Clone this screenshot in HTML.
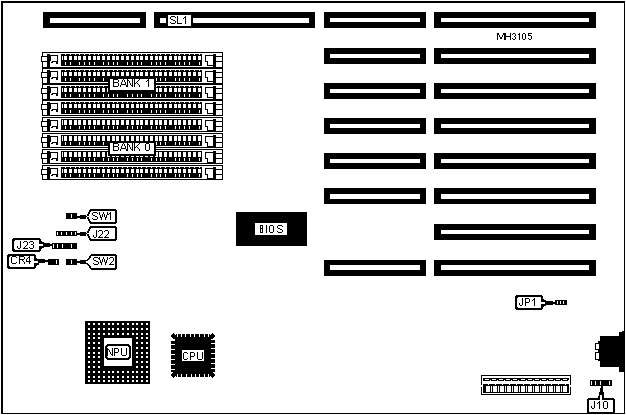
<!DOCTYPE html>
<html><head><meta charset="utf-8"><style>
html,body{margin:0;padding:0;background:#fff;width:626px;height:415px;overflow:hidden}
svg{display:block}
text{font-family:"Liberation Sans",sans-serif;fill:#000}
</style></head><body>
<svg width="626" height="415" viewBox="0 0 626 415" shape-rendering="crispEdges"><rect width="626" height="415" fill="#fff"/><path fill="#000" d="M1 1h624v2h-624zM1 1h2v413h-2zM624 1h1v413h-1zM1 413h624v1h-624zM43 12h103v16h-103z"/><path fill="#fff" d="M50 18h90v5h-90z"/><path fill="#000" d="M154 12h161v16h-161z"/><path fill="#fff" d="M160 18h6v5h-6zM193 18h116v5h-116zM168 15h23v11h-23z"/><path fill="#000" d="M171 16h1v1h-1zM172 16h1v1h-1zM173 16h1v1h-1zM174 16h1v1h-1zM170 17h1v1h-1zM175 17h1v1h-1zM170 18h1v1h-1zM171 19h1v1h-1zM172 19h1v1h-1zM173 20h1v1h-1zM174 20h1v1h-1zM175 21h1v1h-1zM170 22h1v1h-1zM175 22h1v1h-1zM171 23h1v1h-1zM172 23h1v1h-1zM173 23h1v1h-1zM174 23h1v1h-1zM177 16h1v1h-1zM177 17h1v1h-1zM177 18h1v1h-1zM177 19h1v1h-1zM177 20h1v1h-1zM177 21h1v1h-1zM177 22h1v1h-1zM177 23h1v1h-1zM178 23h1v1h-1zM179 23h1v1h-1zM180 23h1v1h-1zM181 23h1v1h-1zM185 16h1v1h-1zM184 17h1v1h-1zM185 17h1v1h-1zM183 18h1v1h-1zM185 18h1v1h-1zM185 19h1v1h-1zM185 20h1v1h-1zM185 21h1v1h-1zM185 22h1v1h-1zM185 23h1v1h-1zM324 12h102v16h-102z"/><path fill="#fff" d="M330 18h90v4h-90z"/><path fill="#000" d="M324 48h102v16h-102z"/><path fill="#fff" d="M330 54h90v4h-90z"/><path fill="#000" d="M324 83h102v16h-102z"/><path fill="#fff" d="M330 89h90v4h-90z"/><path fill="#000" d="M324 118h102v16h-102z"/><path fill="#fff" d="M330 124h90v4h-90z"/><path fill="#000" d="M324 153h102v16h-102z"/><path fill="#fff" d="M330 159h90v4h-90z"/><path fill="#000" d="M324 188h102v16h-102z"/><path fill="#fff" d="M330 194h90v5h-90z"/><path fill="#000" d="M324 260h102v16h-102z"/><path fill="#fff" d="M330 265h90v5h-90z"/><path fill="#000" d="M434 12h162v16h-162z"/><path fill="#fff" d="M441 18h148v4h-148z"/><path fill="#000" d="M434 48h162v16h-162z"/><path fill="#fff" d="M441 54h148v4h-148z"/><path fill="#000" d="M434 83h162v16h-162z"/><path fill="#fff" d="M441 89h148v4h-148z"/><path fill="#000" d="M434 118h162v16h-162z"/><path fill="#fff" d="M441 124h148v4h-148z"/><path fill="#000" d="M434 153h162v16h-162z"/><path fill="#fff" d="M441 159h148v4h-148z"/><path fill="#000" d="M434 188h162v16h-162z"/><path fill="#fff" d="M441 194h148v5h-148z"/><path fill="#000" d="M434 224h162v16h-162z"/><path fill="#fff" d="M441 230h148v4h-148z"/><path fill="#000" d="M434 260h162v16h-162z"/><path fill="#fff" d="M441 265h148v5h-148z"/><path fill="#000" d="M497 33h1v1h-1zM498 33h1v1h-1zM503 33h1v1h-1zM504 33h1v1h-1zM505 33h1v1h-1zM510 33h1v1h-1zM497 34h1v1h-1zM498 34h1v1h-1zM503 34h1v1h-1zM504 34h1v1h-1zM505 34h1v1h-1zM510 34h1v1h-1zM497 35h1v1h-1zM499 35h1v1h-1zM502 35h1v1h-1zM504 35h1v1h-1zM505 35h1v1h-1zM510 35h1v1h-1zM497 36h1v1h-1zM499 36h1v1h-1zM502 36h1v1h-1zM504 36h1v1h-1zM505 36h1v1h-1zM506 36h1v1h-1zM507 36h1v1h-1zM508 36h1v1h-1zM509 36h1v1h-1zM510 36h1v1h-1zM497 37h1v1h-1zM500 37h1v1h-1zM501 37h1v1h-1zM504 37h1v1h-1zM505 37h1v1h-1zM510 37h1v1h-1zM497 38h1v1h-1zM500 38h1v1h-1zM501 38h1v1h-1zM504 38h1v1h-1zM505 38h1v1h-1zM510 38h1v1h-1zM497 39h1v1h-1zM504 39h1v1h-1zM505 39h1v1h-1zM510 39h1v1h-1zM513 33h1v1h-1zM514 33h1v1h-1zM512 34h1v1h-1zM515 34h1v1h-1zM515 35h1v1h-1zM514 36h1v1h-1zM515 37h1v1h-1zM512 38h1v1h-1zM515 38h1v1h-1zM513 39h1v1h-1zM514 39h1v1h-1zM519 33h1v1h-1zM518 34h1v1h-1zM519 34h1v1h-1zM519 35h1v1h-1zM519 36h1v1h-1zM519 37h1v1h-1zM519 38h1v1h-1zM519 39h1v1h-1zM523 33h1v1h-1zM524 33h1v1h-1zM522 34h1v1h-1zM525 34h1v1h-1zM522 35h1v1h-1zM525 35h1v1h-1zM522 36h1v1h-1zM525 36h1v1h-1zM522 37h1v1h-1zM525 37h1v1h-1zM522 38h1v1h-1zM525 38h1v1h-1zM523 39h1v1h-1zM524 39h1v1h-1zM528 33h1v1h-1zM529 33h1v1h-1zM530 33h1v1h-1zM531 33h1v1h-1zM528 34h1v1h-1zM528 35h1v1h-1zM529 35h1v1h-1zM530 35h1v1h-1zM531 36h1v1h-1zM531 37h1v1h-1zM528 38h1v1h-1zM531 38h1v1h-1zM529 39h1v1h-1zM530 39h1v1h-1zM42 52h181v1h-181zM42 67h181v1h-181zM42 52h1v16h-1zM222 52h1v16h-1zM41 56h6v1h-6zM41 61h6v1h-6zM41 56h1v6h-1z"/><path fill="#fff" d="M42 57h5v4h-5z"/><path fill="#000" d="M47 54h3v13h-3zM50 55h8v1h-8zM57 55h1v9h-1zM50 55h1v6h-1zM52 61h6v1h-6zM51 62h2v1h-2zM56 62h2v2h-2zM61 54h141v12h-141z"/><path fill="#fff" d="M64 56h3v4h-3zM65 54h1v1h-1zM65 62h1v3h-1zM69 56h3v4h-3zM70 54h1v1h-1zM70 62h1v3h-1zM74 56h3v4h-3zM75 54h1v1h-1zM78 56h3v4h-3zM79 54h1v1h-1zM79 62h1v3h-1zM83 56h3v4h-3zM84 54h1v1h-1zM84 62h1v3h-1zM88 56h3v4h-3zM89 54h1v1h-1zM89 62h1v3h-1zM93 56h3v4h-3zM94 54h1v1h-1zM94 62h1v3h-1zM97 56h3v4h-3zM98 54h1v1h-1zM102 56h3v4h-3zM103 54h1v1h-1zM103 62h1v3h-1zM107 56h3v4h-3zM108 54h1v1h-1zM108 62h1v3h-1zM112 56h3v4h-3zM113 54h1v1h-1zM113 62h1v3h-1zM116 56h3v4h-3zM117 54h1v1h-1zM117 62h1v3h-1zM121 56h3v4h-3zM122 54h1v1h-1zM126 56h3v4h-3zM127 54h1v1h-1zM127 62h1v3h-1zM131 56h3v4h-3zM132 54h1v1h-1zM132 62h1v3h-1zM136 56h3v4h-3zM137 54h1v1h-1zM137 62h1v3h-1zM140 56h3v4h-3zM141 54h1v1h-1zM141 62h1v3h-1zM145 56h3v4h-3zM146 54h1v1h-1zM150 56h3v4h-3zM151 54h1v1h-1zM151 62h1v3h-1zM155 56h3v4h-3zM156 54h1v1h-1zM156 62h1v3h-1zM159 56h3v4h-3zM160 54h1v1h-1zM160 62h1v3h-1zM164 56h3v4h-3zM165 54h1v1h-1zM165 62h1v3h-1zM169 56h3v4h-3zM170 54h1v1h-1zM174 56h3v4h-3zM175 54h1v1h-1zM175 62h1v3h-1zM178 56h3v4h-3zM179 54h1v1h-1zM179 62h1v3h-1zM183 56h3v4h-3zM184 54h1v1h-1zM184 62h1v3h-1zM188 56h3v4h-3zM189 54h1v1h-1zM189 62h1v3h-1zM193 56h3v4h-3zM194 54h1v1h-1zM198 56h3v4h-3zM199 54h1v1h-1zM199 62h1v3h-1zM62 56h1v4h-1zM200 56h1v4h-1z"/><path fill="#000" d="M205 55h9v1h-9zM205 55h1v7h-1zM205 61h3v1h-3zM207 61h1v5h-1zM207 65h7v1h-7zM213 61h1v5h-1zM213 54h3v13h-3zM216 56h6v1h-6zM216 61h6v1h-6zM42 68h181v1h-181zM42 83h181v1h-181zM42 68h1v16h-1zM222 68h1v16h-1zM41 72h6v1h-6zM41 77h6v1h-6zM41 72h1v6h-1z"/><path fill="#fff" d="M42 73h5v4h-5z"/><path fill="#000" d="M47 70h3v13h-3zM50 71h8v1h-8zM57 71h1v9h-1zM50 71h1v6h-1zM52 77h6v1h-6zM51 78h2v1h-2zM56 78h2v2h-2zM61 70h141v12h-141z"/><path fill="#fff" d="M64 72h3v4h-3zM65 70h1v1h-1zM65 78h1v3h-1zM69 72h3v4h-3zM70 70h1v1h-1zM70 78h1v3h-1zM74 72h3v4h-3zM75 70h1v1h-1zM78 72h3v4h-3zM79 70h1v1h-1zM79 78h1v3h-1zM83 72h3v4h-3zM84 70h1v1h-1zM84 78h1v3h-1zM88 72h3v4h-3zM89 70h1v1h-1zM89 78h1v3h-1zM93 72h3v4h-3zM94 70h1v1h-1zM94 78h1v3h-1zM97 72h3v4h-3zM98 70h1v1h-1zM102 72h3v4h-3zM103 70h1v1h-1zM103 78h1v3h-1zM107 72h3v4h-3zM108 70h1v1h-1zM108 78h1v3h-1zM112 72h3v4h-3zM113 70h1v1h-1zM113 78h1v3h-1zM116 72h3v4h-3zM117 70h1v1h-1zM117 78h1v3h-1zM121 72h3v4h-3zM122 70h1v1h-1zM126 72h3v4h-3zM127 70h1v1h-1zM127 78h1v3h-1zM131 72h3v4h-3zM132 70h1v1h-1zM132 78h1v3h-1zM136 72h3v4h-3zM137 70h1v1h-1zM137 78h1v3h-1zM140 72h3v4h-3zM141 70h1v1h-1zM141 78h1v3h-1zM145 72h3v4h-3zM146 70h1v1h-1zM150 72h3v4h-3zM151 70h1v1h-1zM151 78h1v3h-1zM155 72h3v4h-3zM156 70h1v1h-1zM156 78h1v3h-1zM159 72h3v4h-3zM160 70h1v1h-1zM160 78h1v3h-1zM164 72h3v4h-3zM165 70h1v1h-1zM165 78h1v3h-1zM169 72h3v4h-3zM170 70h1v1h-1zM174 72h3v4h-3zM175 70h1v1h-1zM175 78h1v3h-1zM178 72h3v4h-3zM179 70h1v1h-1zM179 78h1v3h-1zM183 72h3v4h-3zM184 70h1v1h-1zM184 78h1v3h-1zM188 72h3v4h-3zM189 70h1v1h-1zM189 78h1v3h-1zM193 72h3v4h-3zM194 70h1v1h-1zM198 72h3v4h-3zM199 70h1v1h-1zM199 78h1v3h-1zM62 72h1v4h-1zM200 72h1v4h-1z"/><path fill="#000" d="M205 71h9v1h-9zM205 71h1v7h-1zM205 77h3v1h-3zM207 77h1v5h-1zM207 81h7v1h-7zM213 77h1v5h-1zM213 70h3v13h-3zM216 72h6v1h-6zM216 77h6v1h-6zM42 84h181v1h-181zM42 99h181v1h-181zM42 84h1v16h-1zM222 84h1v16h-1zM41 88h6v1h-6zM41 93h6v1h-6zM41 88h1v6h-1z"/><path fill="#fff" d="M42 89h5v4h-5z"/><path fill="#000" d="M47 86h3v13h-3zM50 87h8v1h-8zM57 87h1v9h-1zM50 87h1v6h-1zM52 93h6v1h-6zM51 94h2v1h-2zM56 94h2v2h-2zM61 86h141v12h-141z"/><path fill="#fff" d="M64 88h3v4h-3zM65 86h1v1h-1zM65 94h1v3h-1zM69 88h3v4h-3zM70 86h1v1h-1zM70 94h1v3h-1zM74 88h3v4h-3zM75 86h1v1h-1zM78 88h3v4h-3zM79 86h1v1h-1zM79 94h1v3h-1zM83 88h3v4h-3zM84 86h1v1h-1zM84 94h1v3h-1zM88 88h3v4h-3zM89 86h1v1h-1zM89 94h1v3h-1zM93 88h3v4h-3zM94 86h1v1h-1zM94 94h1v3h-1zM97 88h3v4h-3zM98 86h1v1h-1zM102 88h3v4h-3zM103 86h1v1h-1zM103 94h1v3h-1zM107 88h3v4h-3zM108 86h1v1h-1zM108 94h1v3h-1zM112 88h3v4h-3zM113 86h1v1h-1zM113 94h1v3h-1zM116 88h3v4h-3zM117 86h1v1h-1zM117 94h1v3h-1zM121 88h3v4h-3zM122 86h1v1h-1zM126 88h3v4h-3zM127 86h1v1h-1zM127 94h1v3h-1zM131 88h3v4h-3zM132 86h1v1h-1zM132 94h1v3h-1zM136 88h3v4h-3zM137 86h1v1h-1zM137 94h1v3h-1zM140 88h3v4h-3zM141 86h1v1h-1zM141 94h1v3h-1zM145 88h3v4h-3zM146 86h1v1h-1zM150 88h3v4h-3zM151 86h1v1h-1zM151 94h1v3h-1zM155 88h3v4h-3zM156 86h1v1h-1zM156 94h1v3h-1zM159 88h3v4h-3zM160 86h1v1h-1zM160 94h1v3h-1zM164 88h3v4h-3zM165 86h1v1h-1zM165 94h1v3h-1zM169 88h3v4h-3zM170 86h1v1h-1zM174 88h3v4h-3zM175 86h1v1h-1zM175 94h1v3h-1zM178 88h3v4h-3zM179 86h1v1h-1zM179 94h1v3h-1zM183 88h3v4h-3zM184 86h1v1h-1zM184 94h1v3h-1zM188 88h3v4h-3zM189 86h1v1h-1zM189 94h1v3h-1zM193 88h3v4h-3zM194 86h1v1h-1zM198 88h3v4h-3zM199 86h1v1h-1zM199 94h1v3h-1zM62 88h1v4h-1zM200 88h1v4h-1z"/><path fill="#000" d="M205 87h9v1h-9zM205 87h1v7h-1zM205 93h3v1h-3zM207 93h1v5h-1zM207 97h7v1h-7zM213 93h1v5h-1zM213 86h3v13h-3zM216 88h6v1h-6zM216 93h6v1h-6zM42 100h181v1h-181zM42 115h181v1h-181zM42 100h1v16h-1zM222 100h1v16h-1zM41 104h6v1h-6zM41 109h6v1h-6zM41 104h1v6h-1z"/><path fill="#fff" d="M42 105h5v4h-5z"/><path fill="#000" d="M47 102h3v13h-3zM50 103h8v1h-8zM57 103h1v9h-1zM50 103h1v6h-1zM52 109h6v1h-6zM51 110h2v1h-2zM56 110h2v2h-2zM61 102h141v12h-141z"/><path fill="#fff" d="M64 104h3v4h-3zM65 102h1v1h-1zM65 110h1v3h-1zM69 104h3v4h-3zM70 102h1v1h-1zM70 110h1v3h-1zM74 104h3v4h-3zM75 102h1v1h-1zM78 104h3v4h-3zM79 102h1v1h-1zM79 110h1v3h-1zM83 104h3v4h-3zM84 102h1v1h-1zM84 110h1v3h-1zM88 104h3v4h-3zM89 102h1v1h-1zM89 110h1v3h-1zM93 104h3v4h-3zM94 102h1v1h-1zM94 110h1v3h-1zM97 104h3v4h-3zM98 102h1v1h-1zM102 104h3v4h-3zM103 102h1v1h-1zM103 110h1v3h-1zM107 104h3v4h-3zM108 102h1v1h-1zM108 110h1v3h-1zM112 104h3v4h-3zM113 102h1v1h-1zM113 110h1v3h-1zM116 104h3v4h-3zM117 102h1v1h-1zM117 110h1v3h-1zM121 104h3v4h-3zM122 102h1v1h-1zM126 104h3v4h-3zM127 102h1v1h-1zM127 110h1v3h-1zM131 104h3v4h-3zM132 102h1v1h-1zM132 110h1v3h-1zM136 104h3v4h-3zM137 102h1v1h-1zM137 110h1v3h-1zM140 104h3v4h-3zM141 102h1v1h-1zM141 110h1v3h-1zM145 104h3v4h-3zM146 102h1v1h-1zM150 104h3v4h-3zM151 102h1v1h-1zM151 110h1v3h-1zM155 104h3v4h-3zM156 102h1v1h-1zM156 110h1v3h-1zM159 104h3v4h-3zM160 102h1v1h-1zM160 110h1v3h-1zM164 104h3v4h-3zM165 102h1v1h-1zM165 110h1v3h-1zM169 104h3v4h-3zM170 102h1v1h-1zM174 104h3v4h-3zM175 102h1v1h-1zM175 110h1v3h-1zM178 104h3v4h-3zM179 102h1v1h-1zM179 110h1v3h-1zM183 104h3v4h-3zM184 102h1v1h-1zM184 110h1v3h-1zM188 104h3v4h-3zM189 102h1v1h-1zM189 110h1v3h-1zM193 104h3v4h-3zM194 102h1v1h-1zM198 104h3v4h-3zM199 102h1v1h-1zM199 110h1v3h-1zM62 104h1v4h-1zM200 104h1v4h-1z"/><path fill="#000" d="M205 103h9v1h-9zM205 103h1v7h-1zM205 109h3v1h-3zM207 109h1v5h-1zM207 113h7v1h-7zM213 109h1v5h-1zM213 102h3v13h-3zM216 104h6v1h-6zM216 109h6v1h-6zM42 117h181v1h-181zM42 131h181v1h-181zM42 117h1v15h-1zM222 117h1v15h-1zM41 121h6v1h-6zM41 126h6v1h-6zM41 121h1v6h-1z"/><path fill="#fff" d="M42 122h5v4h-5z"/><path fill="#000" d="M47 119h3v12h-3zM50 120h8v1h-8zM57 120h1v9h-1zM50 120h1v6h-1zM52 126h6v1h-6zM51 127h2v1h-2zM56 127h2v2h-2zM61 119h141v11h-141z"/><path fill="#fff" d="M64 120h3v5h-3zM65 126h1v3h-1zM69 120h3v5h-3zM70 126h1v3h-1zM74 120h3v5h-3zM78 120h3v5h-3zM79 126h1v3h-1zM83 120h3v5h-3zM84 126h1v3h-1zM88 120h3v5h-3zM89 126h1v3h-1zM93 120h3v5h-3zM94 126h1v3h-1zM97 120h3v5h-3zM102 120h3v5h-3zM103 126h1v3h-1zM107 120h3v5h-3zM108 126h1v3h-1zM112 120h3v5h-3zM113 126h1v3h-1zM116 120h3v5h-3zM117 126h1v3h-1zM121 120h3v5h-3zM126 120h3v5h-3zM127 126h1v3h-1zM131 120h3v5h-3zM132 126h1v3h-1zM136 120h3v5h-3zM137 126h1v3h-1zM140 120h3v5h-3zM141 126h1v3h-1zM145 120h3v5h-3zM150 120h3v5h-3zM151 126h1v3h-1zM155 120h3v5h-3zM156 126h1v3h-1zM159 120h3v5h-3zM160 126h1v3h-1zM164 120h3v5h-3zM165 126h1v3h-1zM169 120h3v5h-3zM174 120h3v5h-3zM175 126h1v3h-1zM178 120h3v5h-3zM179 126h1v3h-1zM183 120h3v5h-3zM184 126h1v3h-1zM188 120h3v5h-3zM189 126h1v3h-1zM193 120h3v5h-3zM198 120h3v5h-3zM199 126h1v3h-1zM62 120h1v5h-1zM200 120h1v5h-1z"/><path fill="#000" d="M205 120h9v1h-9zM205 120h1v7h-1zM205 126h3v1h-3zM207 126h1v5h-1zM207 130h7v1h-7zM213 126h1v5h-1zM213 119h3v13h-3zM216 121h6v1h-6zM216 126h6v1h-6zM42 133h181v1h-181zM42 147h181v1h-181zM42 133h1v15h-1zM222 133h1v15h-1zM41 137h6v1h-6zM41 142h6v1h-6zM41 137h1v6h-1z"/><path fill="#fff" d="M42 138h5v4h-5z"/><path fill="#000" d="M47 135h3v12h-3zM50 136h8v1h-8zM57 136h1v9h-1zM50 136h1v6h-1zM52 142h6v1h-6zM51 143h2v1h-2zM56 143h2v2h-2zM61 135h141v11h-141z"/><path fill="#fff" d="M64 136h3v5h-3zM65 142h1v3h-1zM69 136h3v5h-3zM70 142h1v3h-1zM74 136h3v5h-3zM78 136h3v5h-3zM79 142h1v3h-1zM83 136h3v5h-3zM84 142h1v3h-1zM88 136h3v5h-3zM89 142h1v3h-1zM93 136h3v5h-3zM94 142h1v3h-1zM97 136h3v5h-3zM102 136h3v5h-3zM103 142h1v3h-1zM107 136h3v5h-3zM108 142h1v3h-1zM112 136h3v5h-3zM113 142h1v3h-1zM116 136h3v5h-3zM117 142h1v3h-1zM121 136h3v5h-3zM126 136h3v5h-3zM127 142h1v3h-1zM131 136h3v5h-3zM132 142h1v3h-1zM136 136h3v5h-3zM137 142h1v3h-1zM140 136h3v5h-3zM141 142h1v3h-1zM145 136h3v5h-3zM150 136h3v5h-3zM151 142h1v3h-1zM155 136h3v5h-3zM156 142h1v3h-1zM159 136h3v5h-3zM160 142h1v3h-1zM164 136h3v5h-3zM165 142h1v3h-1zM169 136h3v5h-3zM174 136h3v5h-3zM175 142h1v3h-1zM178 136h3v5h-3zM179 142h1v3h-1zM183 136h3v5h-3zM184 142h1v3h-1zM188 136h3v5h-3zM189 142h1v3h-1zM193 136h3v5h-3zM198 136h3v5h-3zM199 142h1v3h-1zM62 136h1v5h-1zM200 136h1v5h-1z"/><path fill="#000" d="M205 136h9v1h-9zM205 136h1v7h-1zM205 142h3v1h-3zM207 142h1v5h-1zM207 146h7v1h-7zM213 142h1v5h-1zM213 135h3v13h-3zM216 137h6v1h-6zM216 142h6v1h-6zM42 149h181v1h-181zM42 163h181v1h-181zM42 149h1v15h-1zM222 149h1v15h-1zM41 153h6v1h-6zM41 158h6v1h-6zM41 153h1v6h-1z"/><path fill="#fff" d="M42 154h5v4h-5z"/><path fill="#000" d="M47 151h3v12h-3zM50 152h8v1h-8zM57 152h1v9h-1zM50 152h1v6h-1zM52 158h6v1h-6zM51 159h2v1h-2zM56 159h2v2h-2zM61 151h141v11h-141z"/><path fill="#fff" d="M64 152h3v5h-3zM65 158h1v3h-1zM69 152h3v5h-3zM70 158h1v3h-1zM74 152h3v5h-3zM78 152h3v5h-3zM79 158h1v3h-1zM83 152h3v5h-3zM84 158h1v3h-1zM88 152h3v5h-3zM89 158h1v3h-1zM93 152h3v5h-3zM94 158h1v3h-1zM97 152h3v5h-3zM102 152h3v5h-3zM103 158h1v3h-1zM107 152h3v5h-3zM108 158h1v3h-1zM112 152h3v5h-3zM113 158h1v3h-1zM116 152h3v5h-3zM117 158h1v3h-1zM121 152h3v5h-3zM126 152h3v5h-3zM127 158h1v3h-1zM131 152h3v5h-3zM132 158h1v3h-1zM136 152h3v5h-3zM137 158h1v3h-1zM140 152h3v5h-3zM141 158h1v3h-1zM145 152h3v5h-3zM150 152h3v5h-3zM151 158h1v3h-1zM155 152h3v5h-3zM156 158h1v3h-1zM159 152h3v5h-3zM160 158h1v3h-1zM164 152h3v5h-3zM165 158h1v3h-1zM169 152h3v5h-3zM174 152h3v5h-3zM175 158h1v3h-1zM178 152h3v5h-3zM179 158h1v3h-1zM183 152h3v5h-3zM184 158h1v3h-1zM188 152h3v5h-3zM189 158h1v3h-1zM193 152h3v5h-3zM198 152h3v5h-3zM199 158h1v3h-1zM62 152h1v5h-1zM200 152h1v5h-1z"/><path fill="#000" d="M205 152h9v1h-9zM205 152h1v7h-1zM205 158h3v1h-3zM207 158h1v5h-1zM207 162h7v1h-7zM213 158h1v5h-1zM213 151h3v13h-3zM216 153h6v1h-6zM216 158h6v1h-6zM42 165h181v1h-181zM42 179h181v1h-181zM42 165h1v15h-1zM222 165h1v15h-1zM41 169h6v1h-6zM41 174h6v1h-6zM41 169h1v6h-1z"/><path fill="#fff" d="M42 170h5v4h-5z"/><path fill="#000" d="M47 167h3v12h-3zM50 168h8v1h-8zM57 168h1v9h-1zM50 168h1v6h-1zM52 174h6v1h-6zM51 175h2v1h-2zM56 175h2v2h-2zM61 167h141v11h-141z"/><path fill="#fff" d="M64 169h3v4h-3zM65 167h1v1h-1zM65 174h1v3h-1zM69 169h3v4h-3zM70 167h1v1h-1zM70 174h1v3h-1zM74 169h3v4h-3zM75 167h1v1h-1zM78 169h3v4h-3zM79 167h1v1h-1zM79 174h1v3h-1zM83 169h3v4h-3zM84 167h1v1h-1zM84 174h1v3h-1zM88 169h3v4h-3zM89 167h1v1h-1zM89 174h1v3h-1zM93 169h3v4h-3zM94 167h1v1h-1zM94 174h1v3h-1zM97 169h3v4h-3zM98 167h1v1h-1zM102 169h3v4h-3zM103 167h1v1h-1zM103 174h1v3h-1zM107 169h3v4h-3zM108 167h1v1h-1zM108 174h1v3h-1zM112 169h3v4h-3zM113 167h1v1h-1zM113 174h1v3h-1zM116 169h3v4h-3zM117 167h1v1h-1zM117 174h1v3h-1zM121 169h3v4h-3zM122 167h1v1h-1zM126 169h3v4h-3zM127 167h1v1h-1zM127 174h1v3h-1zM131 169h3v4h-3zM132 167h1v1h-1zM132 174h1v3h-1zM136 169h3v4h-3zM137 167h1v1h-1zM137 174h1v3h-1zM140 169h3v4h-3zM141 167h1v1h-1zM141 174h1v3h-1zM145 169h3v4h-3zM146 167h1v1h-1zM150 169h3v4h-3zM151 167h1v1h-1zM151 174h1v3h-1zM155 169h3v4h-3zM156 167h1v1h-1zM156 174h1v3h-1zM159 169h3v4h-3zM160 167h1v1h-1zM160 174h1v3h-1zM164 169h3v4h-3zM165 167h1v1h-1zM165 174h1v3h-1zM169 169h3v4h-3zM170 167h1v1h-1zM174 169h3v4h-3zM175 167h1v1h-1zM175 174h1v3h-1zM178 169h3v4h-3zM179 167h1v1h-1zM179 174h1v3h-1zM183 169h3v4h-3zM184 167h1v1h-1zM184 174h1v3h-1zM188 169h3v4h-3zM189 167h1v1h-1zM189 174h1v3h-1zM193 169h3v4h-3zM194 167h1v1h-1zM198 169h3v4h-3zM199 167h1v1h-1zM199 174h1v3h-1zM62 169h1v4h-1zM200 169h1v4h-1z"/><path fill="#000" d="M205 168h9v1h-9zM205 168h1v7h-1zM205 174h3v1h-3zM207 174h1v5h-1zM207 178h7v1h-7zM213 174h1v5h-1zM213 167h3v13h-3zM216 169h6v1h-6zM216 174h6v1h-6zM108 78h48v14h-48z"/><path fill="#fff" d="M110 79h44v11h-44z"/><path fill="#000" d="M113 79h1v1h-1zM114 79h1v1h-1zM115 79h1v1h-1zM116 79h1v1h-1zM117 79h1v1h-1zM113 80h1v1h-1zM118 80h1v1h-1zM113 81h1v1h-1zM118 81h1v1h-1zM113 82h1v1h-1zM114 82h1v1h-1zM115 82h1v1h-1zM116 82h1v1h-1zM117 82h1v1h-1zM113 83h1v1h-1zM118 83h1v1h-1zM113 84h1v1h-1zM118 84h1v1h-1zM113 85h1v1h-1zM118 85h1v1h-1zM113 86h1v1h-1zM114 86h1v1h-1zM115 86h1v1h-1zM116 86h1v1h-1zM117 86h1v1h-1zM123 79h1v1h-1zM122 80h1v1h-1zM124 80h1v1h-1zM122 81h1v1h-1zM124 81h1v1h-1zM121 82h1v1h-1zM125 82h1v1h-1zM121 83h1v1h-1zM125 83h1v1h-1zM121 84h1v1h-1zM122 84h1v1h-1zM123 84h1v1h-1zM124 84h1v1h-1zM125 84h1v1h-1zM120 85h1v1h-1zM126 85h1v1h-1zM120 86h1v1h-1zM126 86h1v1h-1zM127 79h1v1h-1zM132 79h1v1h-1zM127 80h1v1h-1zM128 80h1v1h-1zM132 80h1v1h-1zM127 81h1v1h-1zM129 81h1v1h-1zM132 81h1v1h-1zM127 82h1v1h-1zM129 82h1v1h-1zM132 82h1v1h-1zM127 83h1v1h-1zM130 83h1v1h-1zM132 83h1v1h-1zM127 84h1v1h-1zM130 84h1v1h-1zM132 84h1v1h-1zM127 85h1v1h-1zM131 85h1v1h-1zM132 85h1v1h-1zM127 86h1v1h-1zM132 86h1v1h-1zM134 79h1v1h-1zM139 79h1v1h-1zM134 80h1v1h-1zM138 80h1v1h-1zM134 81h1v1h-1zM137 81h1v1h-1zM134 82h1v1h-1zM136 82h1v1h-1zM134 83h1v1h-1zM135 83h1v1h-1zM137 83h1v1h-1zM134 84h1v1h-1zM138 84h1v1h-1zM134 85h1v1h-1zM139 85h1v1h-1zM134 86h1v1h-1zM139 86h1v1h-1zM148 79h1v1h-1zM147 80h1v1h-1zM148 80h1v1h-1zM146 81h1v1h-1zM148 81h1v1h-1zM148 82h1v1h-1zM148 83h1v1h-1zM148 84h1v1h-1zM148 85h1v1h-1zM148 86h1v1h-1zM108 142h48v14h-48z"/><path fill="#fff" d="M110 143h44v11h-44z"/><path fill="#000" d="M113 143h1v1h-1zM114 143h1v1h-1zM115 143h1v1h-1zM116 143h1v1h-1zM117 143h1v1h-1zM113 144h1v1h-1zM118 144h1v1h-1zM113 145h1v1h-1zM118 145h1v1h-1zM113 146h1v1h-1zM114 146h1v1h-1zM115 146h1v1h-1zM116 146h1v1h-1zM117 146h1v1h-1zM113 147h1v1h-1zM118 147h1v1h-1zM113 148h1v1h-1zM118 148h1v1h-1zM113 149h1v1h-1zM118 149h1v1h-1zM113 150h1v1h-1zM114 150h1v1h-1zM115 150h1v1h-1zM116 150h1v1h-1zM117 150h1v1h-1zM123 143h1v1h-1zM122 144h1v1h-1zM124 144h1v1h-1zM122 145h1v1h-1zM124 145h1v1h-1zM121 146h1v1h-1zM125 146h1v1h-1zM121 147h1v1h-1zM125 147h1v1h-1zM121 148h1v1h-1zM122 148h1v1h-1zM123 148h1v1h-1zM124 148h1v1h-1zM125 148h1v1h-1zM120 149h1v1h-1zM126 149h1v1h-1zM120 150h1v1h-1zM126 150h1v1h-1zM127 143h1v1h-1zM132 143h1v1h-1zM127 144h1v1h-1zM128 144h1v1h-1zM132 144h1v1h-1zM127 145h1v1h-1zM129 145h1v1h-1zM132 145h1v1h-1zM127 146h1v1h-1zM129 146h1v1h-1zM132 146h1v1h-1zM127 147h1v1h-1zM130 147h1v1h-1zM132 147h1v1h-1zM127 148h1v1h-1zM130 148h1v1h-1zM132 148h1v1h-1zM127 149h1v1h-1zM131 149h1v1h-1zM132 149h1v1h-1zM127 150h1v1h-1zM132 150h1v1h-1zM134 143h1v1h-1zM139 143h1v1h-1zM134 144h1v1h-1zM138 144h1v1h-1zM134 145h1v1h-1zM137 145h1v1h-1zM134 146h1v1h-1zM136 146h1v1h-1zM134 147h1v1h-1zM135 147h1v1h-1zM137 147h1v1h-1zM134 148h1v1h-1zM138 148h1v1h-1zM134 149h1v1h-1zM139 149h1v1h-1zM134 150h1v1h-1zM139 150h1v1h-1zM146 143h1v1h-1zM147 143h1v1h-1zM148 143h1v1h-1zM145 144h1v1h-1zM149 144h1v1h-1zM145 145h1v1h-1zM149 145h1v1h-1zM145 146h1v1h-1zM149 146h1v1h-1zM145 147h1v1h-1zM149 147h1v1h-1zM145 148h1v1h-1zM149 148h1v1h-1zM145 149h1v1h-1zM149 149h1v1h-1zM146 150h1v1h-1zM147 150h1v1h-1zM148 150h1v1h-1zM66 213h11v6h-11z"/><path fill="#fff" d="M71 214h1v4h-1z"/><path fill="#000" d="M77 216h3v2h-3zM80 215h6v4h-6zM90 209h27v1h-27zM89 210h28v1h-28zM89 211h28v1h-28zM88 212h29v1h-29zM88 213h29v1h-29zM87 214h30v1h-30zM87 215h30v1h-30zM86 216h31v1h-31zM87 217h30v1h-30zM87 218h30v1h-30zM88 219h29v1h-29zM88 220h29v1h-29zM89 221h28v1h-28zM89 222h28v1h-28zM90 223h27v1h-27z"/><path fill="#fff" d="M116 209h1v1h-1zM116 223h1v1h-1zM91 211h24v1h-24zM90 212h25v1h-25zM90 213h25v1h-25zM89 214h26v1h-26zM89 215h26v1h-26zM88 216h27v1h-27zM89 217h26v1h-26zM89 218h26v1h-26zM90 219h25v1h-25zM90 220h25v1h-25zM91 221h24v1h-24zM87 216h3v1h-3z"/><path fill="#000" d="M93 212h1v1h-1zM94 212h1v1h-1zM95 212h1v1h-1zM96 212h1v1h-1zM92 213h1v1h-1zM97 213h1v1h-1zM92 214h1v1h-1zM93 215h1v1h-1zM94 215h1v1h-1zM95 216h1v1h-1zM96 216h1v1h-1zM97 217h1v1h-1zM92 218h1v1h-1zM97 218h1v1h-1zM93 219h1v1h-1zM94 219h1v1h-1zM95 219h1v1h-1zM96 219h1v1h-1zM99 212h1v1h-1zM103 212h1v1h-1zM107 212h1v1h-1zM99 213h1v1h-1zM103 213h1v1h-1zM107 213h1v1h-1zM99 214h1v1h-1zM102 214h1v1h-1zM104 214h1v1h-1zM107 214h1v1h-1zM100 215h1v1h-1zM102 215h1v1h-1zM104 215h1v1h-1zM106 215h1v1h-1zM100 216h1v1h-1zM102 216h1v1h-1zM104 216h1v1h-1zM106 216h1v1h-1zM100 217h1v1h-1zM101 217h1v1h-1zM105 217h1v1h-1zM106 217h1v1h-1zM101 218h1v1h-1zM105 218h1v1h-1zM101 219h1v1h-1zM105 219h1v1h-1zM110 212h1v1h-1zM109 213h1v1h-1zM110 213h1v1h-1zM108 214h1v1h-1zM110 214h1v1h-1zM110 215h1v1h-1zM110 216h1v1h-1zM110 217h1v1h-1zM110 218h1v1h-1zM110 219h1v1h-1zM56 231h21v5h-21z"/><path fill="#fff" d="M57 232h1v3h-1zM61 232h1v3h-1zM66 232h1v3h-1zM71 232h1v3h-1zM75 232h1v3h-1z"/><path fill="#000" d="M77 233h3v2h-3zM80 232h6v4h-6zM90 226h27v1h-27zM89 227h28v1h-28zM89 228h28v1h-28zM88 229h29v1h-29zM88 230h29v1h-29zM87 231h30v1h-30zM87 232h30v1h-30zM86 233h31v1h-31zM87 234h30v1h-30zM87 235h30v1h-30zM88 236h29v1h-29zM88 237h29v1h-29zM89 238h28v1h-28zM89 239h28v1h-28zM90 240h27v1h-27z"/><path fill="#fff" d="M116 226h1v1h-1zM116 240h1v1h-1zM91 228h24v1h-24zM90 229h25v1h-25zM90 230h25v1h-25zM89 231h26v1h-26zM89 232h26v1h-26zM88 233h27v1h-27zM89 234h26v1h-26zM89 235h26v1h-26zM90 236h25v1h-25zM90 237h25v1h-25zM91 238h24v1h-24zM87 233h3v1h-3z"/><path fill="#000" d="M96 230h1v1h-1zM96 231h1v1h-1zM96 232h1v1h-1zM96 233h1v1h-1zM96 234h1v1h-1zM93 235h1v1h-1zM96 235h1v1h-1zM93 236h1v1h-1zM96 236h1v1h-1zM94 237h1v1h-1zM95 237h1v1h-1zM99 230h1v1h-1zM100 230h1v1h-1zM101 230h1v1h-1zM98 231h1v1h-1zM102 231h1v1h-1zM102 232h1v1h-1zM102 233h1v1h-1zM101 234h1v1h-1zM100 235h1v1h-1zM99 236h1v1h-1zM98 237h1v1h-1zM99 237h1v1h-1zM100 237h1v1h-1zM101 237h1v1h-1zM102 237h1v1h-1zM105 230h1v1h-1zM106 230h1v1h-1zM107 230h1v1h-1zM104 231h1v1h-1zM108 231h1v1h-1zM108 232h1v1h-1zM108 233h1v1h-1zM107 234h1v1h-1zM106 235h1v1h-1zM105 236h1v1h-1zM104 237h1v1h-1zM105 237h1v1h-1zM106 237h1v1h-1zM107 237h1v1h-1zM108 237h1v1h-1zM12 238h29v14h-29z"/><path fill="#fff" d="M12 238h1v1h-1zM40 238h1v1h-1zM12 251h1v1h-1zM40 251h1v1h-1zM14 240h25v10h-25z"/><path fill="#000" d="M14 240h1v1h-1zM14 249h1v1h-1zM40 242h4v6h-4zM40 241h2v8h-2z"/><path fill="#fff" d="M38 244h5v2h-5z"/><path fill="#000" d="M20 241h1v1h-1zM20 242h1v1h-1zM20 243h1v1h-1zM20 244h1v1h-1zM20 245h1v1h-1zM17 246h1v1h-1zM20 246h1v1h-1zM17 247h1v1h-1zM20 247h1v1h-1zM18 248h1v1h-1zM19 248h1v1h-1zM24 241h1v1h-1zM25 241h1v1h-1zM26 241h1v1h-1zM23 242h1v1h-1zM27 242h1v1h-1zM27 243h1v1h-1zM27 244h1v1h-1zM26 245h1v1h-1zM25 246h1v1h-1zM24 247h1v1h-1zM23 248h1v1h-1zM24 248h1v1h-1zM25 248h1v1h-1zM26 248h1v1h-1zM27 248h1v1h-1zM30 241h1v1h-1zM31 241h1v1h-1zM32 241h1v1h-1zM29 242h1v1h-1zM33 242h1v1h-1zM33 243h1v1h-1zM31 244h1v1h-1zM32 244h1v1h-1zM33 245h1v1h-1zM33 246h1v1h-1zM29 247h1v1h-1zM33 247h1v1h-1zM30 248h1v1h-1zM31 248h1v1h-1zM32 248h1v1h-1zM43 243h7v4h-7zM49 244h4v2h-4zM52 243h25v6h-25z"/><path fill="#fff" d="M53 244h1v4h-1zM57 244h1v4h-1zM62 244h1v4h-1zM71 244h1v4h-1z"/><path fill="#000" d="M7 254h29v15h-29z"/><path fill="#fff" d="M7 254h1v1h-1zM35 254h1v1h-1zM7 268h1v1h-1zM35 268h1v1h-1zM9 256h25v11h-25z"/><path fill="#000" d="M9 256h1v1h-1zM9 266h1v1h-1zM35 259h4v6h-4zM35 258h2v8h-2z"/><path fill="#fff" d="M33 261h5v2h-5z"/><path fill="#000" d="M12 256h1v1h-1zM13 256h1v1h-1zM14 256h1v1h-1zM15 256h1v1h-1zM11 257h1v1h-1zM16 257h1v1h-1zM11 258h1v1h-1zM11 259h1v1h-1zM11 260h1v1h-1zM11 261h1v1h-1zM11 262h1v1h-1zM16 262h1v1h-1zM12 263h1v1h-1zM13 263h1v1h-1zM14 263h1v1h-1zM15 263h1v1h-1zM19 256h1v1h-1zM20 256h1v1h-1zM21 256h1v1h-1zM22 256h1v1h-1zM23 256h1v1h-1zM19 257h1v1h-1zM24 257h1v1h-1zM19 258h1v1h-1zM24 258h1v1h-1zM19 259h1v1h-1zM20 259h1v1h-1zM21 259h1v1h-1zM22 259h1v1h-1zM23 259h1v1h-1zM19 260h1v1h-1zM22 260h1v1h-1zM19 261h1v1h-1zM23 261h1v1h-1zM19 262h1v1h-1zM24 262h1v1h-1zM19 263h1v1h-1zM24 263h1v1h-1zM29 256h1v1h-1zM28 257h1v1h-1zM29 257h1v1h-1zM27 258h1v1h-1zM29 258h1v1h-1zM26 259h1v1h-1zM29 259h1v1h-1zM26 260h1v1h-1zM29 260h1v1h-1zM26 261h1v1h-1zM27 261h1v1h-1zM28 261h1v1h-1zM29 261h1v1h-1zM30 261h1v1h-1zM29 262h1v1h-1zM29 263h1v1h-1zM38 259h7v4h-7zM44 260h5v2h-5zM48 259h11v6h-11z"/><path fill="#fff" d="M56 260h1v4h-1z"/><path fill="#000" d="M66 259h11v6h-11z"/><path fill="#fff" d="M71 260h1v4h-1z"/><path fill="#000" d="M77 261h3v2h-3zM80 260h6v4h-6zM91 254h26v1h-26zM90 255h27v1h-27zM89 256h28v1h-28zM89 257h28v1h-28zM88 258h29v1h-29zM87 259h30v1h-30zM86 260h31v1h-31zM85 261h32v1h-32zM85 262h32v1h-32zM86 263h31v1h-31zM87 264h30v1h-30zM88 265h29v1h-29zM89 266h28v1h-28zM89 267h28v1h-28zM90 268h27v1h-27zM91 269h26v1h-26z"/><path fill="#fff" d="M116 254h1v1h-1zM116 269h1v1h-1zM91 256h24v1h-24zM91 257h24v1h-24zM90 258h25v1h-25zM89 259h26v1h-26zM88 260h27v1h-27zM87 261h28v1h-28zM87 262h28v1h-28zM88 263h27v1h-27zM89 264h26v1h-26zM90 265h25v1h-25zM91 266h24v1h-24zM91 267h24v1h-24zM86 261h3v2h-3z"/><path fill="#000" d="M94 257h1v1h-1zM95 257h1v1h-1zM96 257h1v1h-1zM97 257h1v1h-1zM93 258h1v1h-1zM98 258h1v1h-1zM93 259h1v1h-1zM94 260h1v1h-1zM95 260h1v1h-1zM96 261h1v1h-1zM97 261h1v1h-1zM98 262h1v1h-1zM93 263h1v1h-1zM98 263h1v1h-1zM94 264h1v1h-1zM95 264h1v1h-1zM96 264h1v1h-1zM97 264h1v1h-1zM99 257h1v1h-1zM103 257h1v1h-1zM107 257h1v1h-1zM99 258h1v1h-1zM103 258h1v1h-1zM107 258h1v1h-1zM99 259h1v1h-1zM102 259h1v1h-1zM104 259h1v1h-1zM107 259h1v1h-1zM100 260h1v1h-1zM102 260h1v1h-1zM104 260h1v1h-1zM106 260h1v1h-1zM100 261h1v1h-1zM102 261h1v1h-1zM104 261h1v1h-1zM106 261h1v1h-1zM100 262h1v1h-1zM101 262h1v1h-1zM105 262h1v1h-1zM106 262h1v1h-1zM101 263h1v1h-1zM105 263h1v1h-1zM101 264h1v1h-1zM105 264h1v1h-1zM110 257h1v1h-1zM111 257h1v1h-1zM112 257h1v1h-1zM109 258h1v1h-1zM113 258h1v1h-1zM113 259h1v1h-1zM113 260h1v1h-1zM112 261h1v1h-1zM111 262h1v1h-1zM110 263h1v1h-1zM109 264h1v1h-1zM110 264h1v1h-1zM111 264h1v1h-1zM112 264h1v1h-1zM113 264h1v1h-1zM236 212h71v34h-71z"/><path fill="#fff" d="M255 223h32v12h-32z"/><path fill="#000" d="M260 225h1v1h-1zM261 225h1v1h-1zM262 225h1v1h-1zM260 226h1v1h-1zM262 226h1v1h-1zM260 227h1v1h-1zM262 227h1v1h-1zM260 228h1v1h-1zM261 228h1v1h-1zM262 228h1v1h-1zM260 229h1v1h-1zM262 229h1v1h-1zM260 230h1v1h-1zM262 230h1v1h-1zM260 231h1v1h-1zM262 231h1v1h-1zM260 232h1v1h-1zM261 232h1v1h-1zM262 232h1v1h-1zM266 225h1v1h-1zM266 226h1v1h-1zM266 227h1v1h-1zM266 228h1v1h-1zM266 229h1v1h-1zM266 230h1v1h-1zM266 231h1v1h-1zM266 232h1v1h-1zM270 225h1v1h-1zM271 225h1v1h-1zM272 225h1v1h-1zM269 226h1v1h-1zM273 226h1v1h-1zM269 227h1v1h-1zM273 227h1v1h-1zM269 228h1v1h-1zM273 228h1v1h-1zM269 229h1v1h-1zM273 229h1v1h-1zM269 230h1v1h-1zM273 230h1v1h-1zM269 231h1v1h-1zM273 231h1v1h-1zM270 232h1v1h-1zM271 232h1v1h-1zM272 232h1v1h-1zM278 225h1v1h-1zM279 225h1v1h-1zM280 225h1v1h-1zM281 225h1v1h-1zM277 226h1v1h-1zM282 226h1v1h-1zM277 227h1v1h-1zM278 228h1v1h-1zM279 228h1v1h-1zM280 229h1v1h-1zM281 229h1v1h-1zM282 230h1v1h-1zM277 231h1v1h-1zM282 231h1v1h-1zM278 232h1v1h-1zM279 232h1v1h-1zM280 232h1v1h-1zM281 232h1v1h-1zM85 321h65v63h-65z"/><path fill="#fff" d="M88 323h2v2h-2zM93 323h2v2h-2zM98 323h2v2h-2zM103 323h2v2h-2zM108 323h2v2h-2zM112 323h2v2h-2zM117 323h2v2h-2zM122 323h2v2h-2zM127 323h2v2h-2zM132 323h2v2h-2zM136 323h2v2h-2zM141 323h2v2h-2zM146 323h2v2h-2zM88 328h2v2h-2zM93 328h2v2h-2zM98 328h2v2h-2zM103 328h2v2h-2zM108 328h2v2h-2zM112 328h2v2h-2zM117 328h2v2h-2zM122 328h2v2h-2zM127 328h2v2h-2zM132 328h2v2h-2zM136 328h2v2h-2zM141 328h2v2h-2zM146 328h2v2h-2zM88 333h2v2h-2zM93 333h2v2h-2zM98 333h2v2h-2zM103 333h2v2h-2zM108 333h2v2h-2zM112 333h2v2h-2zM117 333h2v2h-2zM122 333h2v2h-2zM127 333h2v2h-2zM132 333h2v2h-2zM136 333h2v2h-2zM141 333h2v2h-2zM146 333h2v2h-2zM88 337h2v2h-2zM93 337h2v2h-2zM98 337h2v2h-2zM136 337h2v2h-2zM141 337h2v2h-2zM146 337h2v2h-2zM88 342h2v2h-2zM93 342h2v2h-2zM98 342h2v2h-2zM136 342h2v2h-2zM141 342h2v2h-2zM146 342h2v2h-2zM88 347h2v2h-2zM93 347h2v2h-2zM98 347h2v2h-2zM136 347h2v2h-2zM141 347h2v2h-2zM146 347h2v2h-2zM88 352h2v2h-2zM93 352h2v2h-2zM98 352h2v2h-2zM136 352h2v2h-2zM141 352h2v2h-2zM146 352h2v2h-2zM88 356h2v2h-2zM93 356h2v2h-2zM98 356h2v2h-2zM136 356h2v2h-2zM141 356h2v2h-2zM146 356h2v2h-2zM88 361h2v2h-2zM93 361h2v2h-2zM98 361h2v2h-2zM136 361h2v2h-2zM141 361h2v2h-2zM146 361h2v2h-2zM88 366h2v2h-2zM93 366h2v2h-2zM98 366h2v2h-2zM136 366h2v2h-2zM141 366h2v2h-2zM146 366h2v2h-2zM88 371h2v2h-2zM93 371h2v2h-2zM98 371h2v2h-2zM103 371h2v2h-2zM108 371h2v2h-2zM112 371h2v2h-2zM117 371h2v2h-2zM122 371h2v2h-2zM127 371h2v2h-2zM132 371h2v2h-2zM136 371h2v2h-2zM141 371h2v2h-2zM146 371h2v2h-2zM88 376h2v2h-2zM93 376h2v2h-2zM98 376h2v2h-2zM103 376h2v2h-2zM108 376h2v2h-2zM112 376h2v2h-2zM117 376h2v2h-2zM122 376h2v2h-2zM127 376h2v2h-2zM132 376h2v2h-2zM136 376h2v2h-2zM141 376h2v2h-2zM146 376h2v2h-2zM88 380h2v2h-2zM93 380h2v2h-2zM98 380h2v2h-2zM103 380h2v2h-2zM108 380h2v2h-2zM112 380h2v2h-2zM117 380h2v2h-2zM122 380h2v2h-2zM127 380h2v2h-2zM132 380h2v2h-2zM136 380h2v2h-2zM141 380h2v2h-2zM146 380h2v2h-2zM104 338h28v28h-28z"/><path fill="#000" d="M105 344h26v16h-26z"/><path fill="#fff" d="M107 346h22v12h-22zM105 344h2v1h-2zM105 345h1v1h-1zM129 344h2v1h-2zM130 345h1v1h-1zM105 359h2v1h-2zM105 358h1v1h-1zM129 359h2v1h-2zM130 358h1v1h-1z"/><path fill="#000" d="M107 346h1v1h-1zM128 346h1v1h-1zM107 357h1v1h-1zM128 357h1v1h-1zM107 348h1v1h-1zM112 348h1v1h-1zM107 349h1v1h-1zM108 349h1v1h-1zM112 349h1v1h-1zM107 350h1v1h-1zM109 350h1v1h-1zM112 350h1v1h-1zM107 351h1v1h-1zM109 351h1v1h-1zM112 351h1v1h-1zM107 352h1v1h-1zM110 352h1v1h-1zM112 352h1v1h-1zM107 353h1v1h-1zM110 353h1v1h-1zM112 353h1v1h-1zM107 354h1v1h-1zM111 354h1v1h-1zM112 354h1v1h-1zM107 355h1v1h-1zM112 355h1v1h-1zM114 348h1v1h-1zM115 348h1v1h-1zM116 348h1v1h-1zM117 348h1v1h-1zM114 349h1v1h-1zM118 349h1v1h-1zM114 350h1v1h-1zM118 350h1v1h-1zM114 351h1v1h-1zM118 351h1v1h-1zM114 352h1v1h-1zM115 352h1v1h-1zM116 352h1v1h-1zM117 352h1v1h-1zM114 353h1v1h-1zM114 354h1v1h-1zM114 355h1v1h-1zM121 348h1v1h-1zM126 348h1v1h-1zM121 349h1v1h-1zM126 349h1v1h-1zM121 350h1v1h-1zM126 350h1v1h-1zM121 351h1v1h-1zM126 351h1v1h-1zM121 352h1v1h-1zM126 352h1v1h-1zM121 353h1v1h-1zM126 353h1v1h-1zM121 354h1v1h-1zM126 354h1v1h-1zM122 355h1v1h-1zM123 355h1v1h-1zM124 355h1v1h-1zM125 355h1v1h-1zM175 337h36v37h-36zM176 334h34v3h-34zM176 374h34v3h-34zM171 341h4v31h-4zM211 340h4v32h-4z"/><path fill="#fff" d="M177 334h1v3h-1zM181 334h1v3h-1zM185 334h1v3h-1zM190 334h1v3h-1zM194 334h1v3h-1zM199 334h1v3h-1zM204 334h1v3h-1zM208 334h1v3h-1zM177 374h1v3h-1zM181 374h1v3h-1zM186 374h1v3h-1zM191 374h1v3h-1zM195 374h1v3h-1zM199 374h1v3h-1zM204 374h1v3h-1zM208 374h1v3h-1zM171 344h4v1h-4zM171 349h4v1h-4zM171 354h4v1h-4zM171 359h4v1h-4zM171 364h4v1h-4zM171 369h4v1h-4zM211 343h4v1h-4zM211 348h4v1h-4zM211 353h4v1h-4zM211 358h4v1h-4zM211 363h4v1h-4zM211 368h4v1h-4z"/><path fill="#000" d="M212 333h1v1h-1zM173 333h1v1h-1zM212 377h1v1h-1zM173 377h1v1h-1zM211 334h3v1h-3zM172 334h3v1h-3zM211 376h3v1h-3zM172 376h3v1h-3zM210 335h5v1h-5zM171 335h5v1h-5zM210 375h5v1h-5zM171 375h5v1h-5zM209 336h6v1h-6zM171 336h6v1h-6zM209 374h6v1h-6zM171 374h6v1h-6zM209 337h5v1h-5zM172 337h5v1h-5zM209 373h5v1h-5zM172 373h5v1h-5zM210 338h3v1h-3zM173 338h3v1h-3zM210 372h3v1h-3zM173 372h3v1h-3z"/><path fill="#fff" d="M182 350h22v11h-22z"/><path fill="#000" d="M184 352h1v1h-1zM185 352h1v1h-1zM186 352h1v1h-1zM183 353h1v1h-1zM187 353h1v1h-1zM183 354h1v1h-1zM183 355h1v1h-1zM183 356h1v1h-1zM183 357h1v1h-1zM183 358h1v1h-1zM187 358h1v1h-1zM184 359h1v1h-1zM185 359h1v1h-1zM186 359h1v1h-1zM190 352h1v1h-1zM191 352h1v1h-1zM192 352h1v1h-1zM193 352h1v1h-1zM190 353h1v1h-1zM194 353h1v1h-1zM190 354h1v1h-1zM194 354h1v1h-1zM190 355h1v1h-1zM194 355h1v1h-1zM190 356h1v1h-1zM191 356h1v1h-1zM192 356h1v1h-1zM193 356h1v1h-1zM190 357h1v1h-1zM190 358h1v1h-1zM190 359h1v1h-1zM197 352h1v1h-1zM202 352h1v1h-1zM197 353h1v1h-1zM202 353h1v1h-1zM197 354h1v1h-1zM202 354h1v1h-1zM197 355h1v1h-1zM202 355h1v1h-1zM197 356h1v1h-1zM202 356h1v1h-1zM197 357h1v1h-1zM202 357h1v1h-1zM197 358h1v1h-1zM202 358h1v1h-1zM198 359h1v1h-1zM199 359h1v1h-1zM200 359h1v1h-1zM201 359h1v1h-1zM515 295h28v15h-28z"/><path fill="#fff" d="M515 295h1v1h-1zM542 295h1v1h-1zM515 309h1v1h-1zM542 309h1v1h-1zM517 297h24v11h-24z"/><path fill="#000" d="M517 297h1v1h-1zM517 307h1v1h-1zM542 300h4v6h-4zM542 299h2v8h-2z"/><path fill="#fff" d="M540 302h5v2h-5z"/><path fill="#000" d="M522 298h1v1h-1zM522 299h1v1h-1zM522 300h1v1h-1zM522 301h1v1h-1zM522 302h1v1h-1zM519 303h1v1h-1zM522 303h1v1h-1zM519 304h1v1h-1zM522 304h1v1h-1zM520 305h1v1h-1zM521 305h1v1h-1zM525 298h1v1h-1zM526 298h1v1h-1zM527 298h1v1h-1zM528 298h1v1h-1zM525 299h1v1h-1zM529 299h1v1h-1zM525 300h1v1h-1zM529 300h1v1h-1zM525 301h1v1h-1zM529 301h1v1h-1zM525 302h1v1h-1zM526 302h1v1h-1zM527 302h1v1h-1zM528 302h1v1h-1zM525 303h1v1h-1zM525 304h1v1h-1zM525 305h1v1h-1zM534 298h1v1h-1zM533 299h1v1h-1zM534 299h1v1h-1zM532 300h1v1h-1zM534 300h1v1h-1zM534 301h1v1h-1zM534 302h1v1h-1zM534 303h1v1h-1zM534 304h1v1h-1zM534 305h1v1h-1zM546 301h7v4h-7zM553 302h2v2h-2zM555 300h12v5h-12z"/><path fill="#fff" d="M557 301h1v3h-1zM560 301h1v3h-1zM563 301h1v3h-1z"/><path fill="#000" d="M600 336h25v31h-25zM619 332h6v40h-6zM622 331h3v41h-3zM598 341h3v20h-3zM595 343h5v7h-5z"/><path fill="#fff" d="M596 344h3v5h-3z"/><path fill="#000" d="M595 352h5v8h-5z"/><path fill="#fff" d="M596 353h3v6h-3z"/><path fill="#000" d="M590 380h22v6h-22z"/><path fill="#fff" d="M591 381h1v4h-1zM595 381h1v4h-1zM600 381h1v4h-1zM609 381h1v4h-1z"/><path fill="#000" d="M601 386h2v2h-2zM600 388h3v4h-3zM599 392h5v4h-5zM598 396h6v2h-6zM587 398h28v16h-28z"/><path fill="#fff" d="M589 400h24v12h-24zM587 398h1v1h-1zM614 398h1v1h-1zM600 395h2v5h-2z"/><path fill="#000" d="M594 401h1v1h-1zM594 402h1v1h-1zM594 403h1v1h-1zM594 404h1v1h-1zM594 405h1v1h-1zM591 406h1v1h-1zM594 406h1v1h-1zM591 407h1v1h-1zM594 407h1v1h-1zM592 408h1v1h-1zM593 408h1v1h-1zM599 401h1v1h-1zM598 402h1v1h-1zM599 402h1v1h-1zM597 403h1v1h-1zM599 403h1v1h-1zM599 404h1v1h-1zM599 405h1v1h-1zM599 406h1v1h-1zM599 407h1v1h-1zM599 408h1v1h-1zM604 401h1v1h-1zM605 401h1v1h-1zM606 401h1v1h-1zM603 402h1v1h-1zM607 402h1v1h-1zM603 403h1v1h-1zM607 403h1v1h-1zM603 404h1v1h-1zM607 404h1v1h-1zM603 405h1v1h-1zM607 405h1v1h-1zM603 406h1v1h-1zM607 406h1v1h-1zM603 407h1v1h-1zM607 407h1v1h-1zM604 408h1v1h-1zM605 408h1v1h-1zM606 408h1v1h-1zM481 375h90v20h-90z"/><path fill="#fff" d="M482 376h88v18h-88z"/><path fill="#000" d="M483 378h86v3h-86z"/><path fill="#fff" d="M485 379h4v1h-4zM490 380h1v1h-1zM492 379h4v1h-4zM497 380h1v1h-1zM499 379h4v1h-4zM504 380h1v1h-1zM506 379h4v1h-4zM511 380h1v1h-1zM513 379h4v1h-4zM518 380h1v1h-1zM521 379h4v1h-4zM526 380h1v1h-1zM528 379h4v1h-4zM533 380h1v1h-1zM535 379h4v1h-4zM540 380h1v1h-1zM542 379h4v1h-4zM547 380h1v1h-1zM549 379h4v1h-4zM554 380h1v1h-1zM556 379h4v1h-4zM561 380h1v1h-1zM563 379h4v1h-4zM568 380h1v1h-1z"/><path fill="#000" d="M483 384h86v9h-86z"/><path fill="#fff" d="M491 386h1v6h-1zM486 386h4v6h-4zM488 384h1v1h-1zM498 386h1v6h-1zM493 386h4v6h-4zM495 384h1v1h-1zM505 386h1v6h-1zM500 386h4v6h-4zM502 384h1v1h-1zM512 386h1v6h-1zM507 386h4v6h-4zM509 384h1v1h-1zM519 386h1v6h-1zM514 386h4v6h-4zM516 384h1v1h-1zM526 386h1v6h-1zM521 386h4v6h-4zM523 384h1v1h-1zM533 386h1v6h-1zM528 386h4v6h-4zM530 384h1v1h-1zM540 386h1v6h-1zM535 386h4v6h-4zM537 384h1v1h-1zM547 386h1v6h-1zM542 386h4v6h-4zM544 384h1v1h-1zM554 386h1v6h-1zM549 386h4v6h-4zM551 384h1v1h-1zM561 386h1v6h-1zM556 386h4v6h-4zM558 384h1v1h-1zM568 386h1v6h-1zM563 386h4v6h-4zM565 384h1v1h-1z"/><path fill="#000" d="M483 386h1v7h-1zM568 386h1v7h-1zM483 392h86v1h-86z"/><path fill="#fff" d="M481 385h1v2h-1zM570 385h1v2h-1z"/></svg>
</body></html>
